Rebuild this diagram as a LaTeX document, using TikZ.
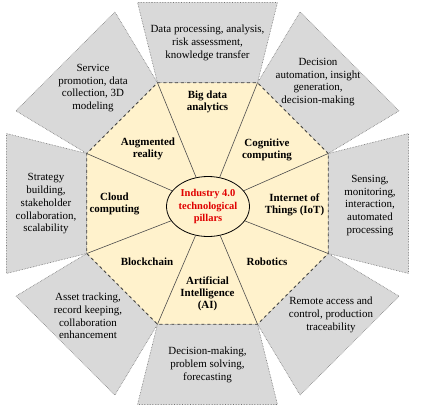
\documentclass[tikz,border=0pt]{standalone}
\usepackage{fontspec}
\setmainfont{Liberation Serif}
\usetikzlibrary{shapes.geometric}

\definecolor{pillarfill}{HTML}{FFF2CC}
\definecolor{usefill}{HTML}{D9D9D9}
\definecolor{hubred}{HTML}{E00000}

\begin{document}
\begin{tikzpicture}[
x=1bp,y=1bp,
every node/.style={
align=center,
inner sep=1pt,
font=\fontsize{11}{12.8}\selectfont
},
pillar/.style={
font=\fontsize{11}{12}\selectfont\bfseries
},
usebox/.style={
fill=usefill,
draw=black!55,
densely dotted,
line width=0.6pt
}
]

\useasboundingbox (-207.5,-206.5) rectangle (213.5,203.5);

% corners of the octagon
\coordinate (v1) at (22.5:130.7);
\coordinate (v2) at (67.5:130.7);
\coordinate (v3) at (112.5:130.7);
\coordinate (v4) at (157.5:130.7);
\coordinate (v5) at (202.5:130.7);
\coordinate (v6) at (247.5:130.7);
\coordinate (v7) at (292.5:130.7);
\coordinate (v8) at (337.5:130.7);

% outer boxes
\draw[usebox] (v2) -- (v3) -- (109.2:212.8) -- (70.8:212.8) -- cycle;
\draw[usebox] (v3) -- (v4) -- (154.2:212.8) -- (115.8:212.8) -- cycle;
\draw[usebox] (v4) -- (v5) -- (199.2:212.8) -- (160.8:212.8) -- cycle;
\draw[usebox] (v5) -- (v6) -- (244.2:212.8) -- (205.8:212.8) -- cycle;
\draw[usebox] (v6) -- (v7) -- (289.2:212.8) -- (250.8:212.8) -- cycle;
\draw[usebox] (v7) -- (v8) -- (334.2:212.8) -- (295.8:212.8) -- cycle;
\draw[usebox] (v8) -- (v1) -- (19.2:212.8) -- (340.8:212.8) -- cycle;
\draw[usebox] (v1) -- (v2) -- (64.2:212.8) -- (25.8:212.8) -- cycle;

% octagon
\draw[fill=pillarfill, draw=black!75, dashed, line width=0.9pt]
(v1) -- (v2) -- (v3) -- (v4) -- (v5) -- (v6) -- (v7) -- (v8) -- cycle;

\node[ellipse, draw, line width=0.8pt, fill=pillarfill,
minimum width=83bp, minimum height=60bp, inner sep=0pt,
text=hubred, font=\fontsize{10.5}{12.5}\selectfont\bfseries] (H) at (0.5,-3)
{Industry 4.0\\technological\\pillars};

\draw[black!70, line width=0.6pt] (H) -- (v1);
\draw[black!70, line width=0.6pt] (H) -- (v2);
\draw[black!70, line width=0.6pt] (H) -- (v3);
\draw[black!70, line width=0.6pt] (H) -- (v4);
\draw[black!70, line width=0.6pt] (H) -- (v5);
\draw[black!70, line width=0.6pt] (H) -- (v6);
\draw[black!70, line width=0.6pt] (H) -- (v7);
\draw[black!70, line width=0.6pt] (H) -- (v8);

% pillars
\node[pillar] (BD) at (0,101.5) {Big data\\analytics};
\node[pillar] (CG) at (59.5,53.5) {Cognitive\\computing};
\node[pillar] (IT) at (87,-1) {Internet of\\Things (IoT)};
\node[pillar] (RB) at (59.5,-58.5) {Robotics};
\node[pillar] (AI) at (0,-90) {Artificial\\Intelligence\\(AI)};
\node[pillar] (BC) at (-60.5,-58.5) {Blockchain};
\node[pillar] (CL) at (-93,0) {Cloud\\computing};
\node[pillar] (AR) at (-59.5,54.5) {Augmented\\reality};

% uses
\node (uBD) at (0,160.5) {Data processing, analysis,\\risk assessment,\\knowledge transfer};
\node (uCG) at (110.5,121.5) {Decision\\automation, insight\\generation,\\decision-making};
\node (uIT) at (162.5,-2) {Sensing,\\monitoring,\\interaction,\\automated\\processing};
\node (uRB) at (123.5,-111.5) {Remote access and\\control, production\\traceability};
\node (uAI) at (0,-161.5) {Decision-making,\\problem solving,\\forecasting};
\node (uBC) at (-119.5,-112.5) {Asset tracking,\\record keeping,\\collaboration\\enhancement};
\node (uCL) at (-161.5,-0.5) {Strategy\\building,\\stakeholder\\collaboration,\\scalability};
\node (uAR) at (-114.5,115.5) {Service\\promotion, data\\collection, 3D\\modeling};

\end{tikzpicture}
\end{document}
